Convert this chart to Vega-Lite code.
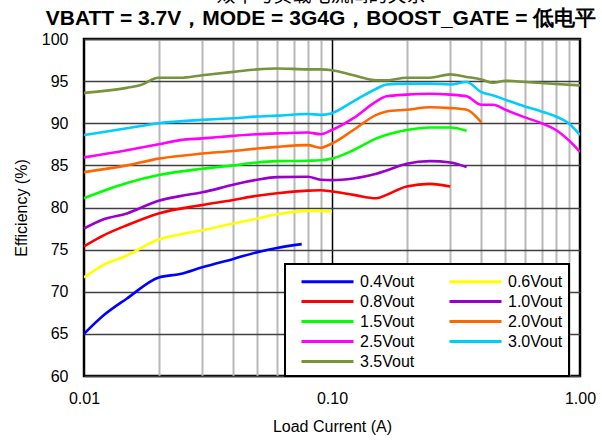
{
  "$schema": "https://vega.github.io/schema/vega-lite/v6.json",
  "width": 496,
  "height": 337,
  "autosize": {"type": "none"},
  "padding": {"left": 84, "top": 39, "right": 22, "bottom": 65},
  "background": "white",
  "config": {
    "view": {"stroke": "black", "strokeWidth": 2.5},
    "font": "Liberation Sans"
  },
  "title": {
    "text": "效率与负载电流间的关系",
    "subtitle": "VBATT = 3.7V，MODE = 3G4G，BOOST_GATE = 低电平",
    "anchor": "middle",
    "dx": -11,
    "font": "Noto Sans CJK SC",
    "fontSize": 19,
    "fontWeight": "normal",
    "color": "black",
    "subtitleFont": "Liberation Sans",
    "subtitleFontSize": 21,
    "subtitleFontWeight": "bold",
    "subtitleColor": "black",
    "subtitlePadding": 2,
    "offset": 2
  },
  "data": {
    "values": [
      {"I": 0.01, "E": 65.0, "s": "0.4Vout"},
      {"I": 0.012, "E": 67.2, "s": "0.4Vout"},
      {"I": 0.0149, "E": 69.2, "s": "0.4Vout"},
      {"I": 0.02, "E": 71.7, "s": "0.4Vout"},
      {"I": 0.0244, "E": 72.1, "s": "0.4Vout"},
      {"I": 0.03, "E": 72.9, "s": "0.4Vout"},
      {"I": 0.04, "E": 73.9, "s": "0.4Vout"},
      {"I": 0.05, "E": 74.7, "s": "0.4Vout"},
      {"I": 0.06, "E": 75.2, "s": "0.4Vout"},
      {"I": 0.0755, "E": 75.65, "s": "0.4Vout"},

      {"I": 0.01, "E": 71.7, "s": "0.6Vout"},
      {"I": 0.012, "E": 73.2, "s": "0.6Vout"},
      {"I": 0.0149, "E": 74.3, "s": "0.6Vout"},
      {"I": 0.02, "E": 76.2, "s": "0.6Vout"},
      {"I": 0.0244, "E": 76.8, "s": "0.6Vout"},
      {"I": 0.03, "E": 77.3, "s": "0.6Vout"},
      {"I": 0.04, "E": 78.1, "s": "0.6Vout"},
      {"I": 0.05, "E": 78.7, "s": "0.6Vout"},
      {"I": 0.06, "E": 79.2, "s": "0.6Vout"},
      {"I": 0.08, "E": 79.6, "s": "0.6Vout"},
      {"I": 0.09, "E": 79.6, "s": "0.6Vout"},
      {"I": 0.1, "E": 79.5, "s": "0.6Vout"},

      {"I": 0.01, "E": 75.4, "s": "0.8Vout"},
      {"I": 0.012, "E": 76.7, "s": "0.8Vout"},
      {"I": 0.0149, "E": 77.9, "s": "0.8Vout"},
      {"I": 0.02, "E": 79.3, "s": "0.8Vout"},
      {"I": 0.03, "E": 80.3, "s": "0.8Vout"},
      {"I": 0.04, "E": 80.9, "s": "0.8Vout"},
      {"I": 0.05, "E": 81.4, "s": "0.8Vout"},
      {"I": 0.06, "E": 81.7, "s": "0.8Vout"},
      {"I": 0.08, "E": 82.0, "s": "0.8Vout"},
      {"I": 0.09, "E": 82.05, "s": "0.8Vout"},
      {"I": 0.1, "E": 81.9, "s": "0.8Vout"},
      {"I": 0.122, "E": 81.5, "s": "0.8Vout"},
      {"I": 0.151, "E": 81.1, "s": "0.8Vout"},
      {"I": 0.166, "E": 81.5, "s": "0.8Vout"},
      {"I": 0.2, "E": 82.5, "s": "0.8Vout"},
      {"I": 0.248, "E": 82.8, "s": "0.8Vout"},
      {"I": 0.3, "E": 82.5, "s": "0.8Vout"},

      {"I": 0.01, "E": 77.5, "s": "1.0Vout"},
      {"I": 0.012, "E": 78.6, "s": "1.0Vout"},
      {"I": 0.0149, "E": 79.3, "s": "1.0Vout"},
      {"I": 0.02, "E": 80.8, "s": "1.0Vout"},
      {"I": 0.0244, "E": 81.35, "s": "1.0Vout"},
      {"I": 0.03, "E": 81.8, "s": "1.0Vout"},
      {"I": 0.04, "E": 82.7, "s": "1.0Vout"},
      {"I": 0.05, "E": 83.3, "s": "1.0Vout"},
      {"I": 0.06, "E": 83.6, "s": "1.0Vout"},
      {"I": 0.08, "E": 83.65, "s": "1.0Vout"},
      {"I": 0.09, "E": 83.3, "s": "1.0Vout"},
      {"I": 0.1, "E": 83.25, "s": "1.0Vout"},
      {"I": 0.122, "E": 83.45, "s": "1.0Vout"},
      {"I": 0.151, "E": 84.0, "s": "1.0Vout"},
      {"I": 0.166, "E": 84.4, "s": "1.0Vout"},
      {"I": 0.2, "E": 85.2, "s": "1.0Vout"},
      {"I": 0.248, "E": 85.5, "s": "1.0Vout"},
      {"I": 0.3, "E": 85.35, "s": "1.0Vout"},
      {"I": 0.349, "E": 84.8, "s": "1.0Vout"},

      {"I": 0.01, "E": 81.1, "s": "1.5Vout"},
      {"I": 0.0149, "E": 82.9, "s": "1.5Vout"},
      {"I": 0.02, "E": 83.85, "s": "1.5Vout"},
      {"I": 0.03, "E": 84.6, "s": "1.5Vout"},
      {"I": 0.04, "E": 85.0, "s": "1.5Vout"},
      {"I": 0.05, "E": 85.35, "s": "1.5Vout"},
      {"I": 0.06, "E": 85.5, "s": "1.5Vout"},
      {"I": 0.08, "E": 85.55, "s": "1.5Vout"},
      {"I": 0.09, "E": 85.6, "s": "1.5Vout"},
      {"I": 0.1, "E": 85.8, "s": "1.5Vout"},
      {"I": 0.122, "E": 86.8, "s": "1.5Vout"},
      {"I": 0.151, "E": 88.2, "s": "1.5Vout"},
      {"I": 0.2, "E": 89.2, "s": "1.5Vout"},
      {"I": 0.248, "E": 89.5, "s": "1.5Vout"},
      {"I": 0.3, "E": 89.5, "s": "1.5Vout"},
      {"I": 0.349, "E": 89.1, "s": "1.5Vout"},

      {"I": 0.01, "E": 84.2, "s": "2.0Vout"},
      {"I": 0.0149, "E": 85.0, "s": "2.0Vout"},
      {"I": 0.02, "E": 85.8, "s": "2.0Vout"},
      {"I": 0.03, "E": 86.4, "s": "2.0Vout"},
      {"I": 0.04, "E": 86.7, "s": "2.0Vout"},
      {"I": 0.05, "E": 87.0, "s": "2.0Vout"},
      {"I": 0.06, "E": 87.2, "s": "2.0Vout"},
      {"I": 0.08, "E": 87.4, "s": "2.0Vout"},
      {"I": 0.09, "E": 87.1, "s": "2.0Vout"},
      {"I": 0.1, "E": 87.6, "s": "2.0Vout"},
      {"I": 0.122, "E": 89.2, "s": "2.0Vout"},
      {"I": 0.151, "E": 91.0, "s": "2.0Vout"},
      {"I": 0.166, "E": 91.4, "s": "2.0Vout"},
      {"I": 0.2, "E": 91.6, "s": "2.0Vout"},
      {"I": 0.248, "E": 91.9, "s": "2.0Vout"},
      {"I": 0.3, "E": 91.8, "s": "2.0Vout"},
      {"I": 0.349, "E": 91.6, "s": "2.0Vout"},
      {"I": 0.4, "E": 90.1, "s": "2.0Vout"},

      {"I": 0.01, "E": 85.95, "s": "2.5Vout"},
      {"I": 0.0149, "E": 86.8, "s": "2.5Vout"},
      {"I": 0.02, "E": 87.5, "s": "2.5Vout"},
      {"I": 0.0244, "E": 88.0, "s": "2.5Vout"},
      {"I": 0.03, "E": 88.2, "s": "2.5Vout"},
      {"I": 0.04, "E": 88.5, "s": "2.5Vout"},
      {"I": 0.05, "E": 88.7, "s": "2.5Vout"},
      {"I": 0.06, "E": 88.8, "s": "2.5Vout"},
      {"I": 0.08, "E": 88.9, "s": "2.5Vout"},
      {"I": 0.09, "E": 88.7, "s": "2.5Vout"},
      {"I": 0.1, "E": 89.2, "s": "2.5Vout"},
      {"I": 0.122, "E": 90.6, "s": "2.5Vout"},
      {"I": 0.151, "E": 92.6, "s": "2.5Vout"},
      {"I": 0.166, "E": 93.2, "s": "2.5Vout"},
      {"I": 0.2, "E": 93.4, "s": "2.5Vout"},
      {"I": 0.248, "E": 93.5, "s": "2.5Vout"},
      {"I": 0.3, "E": 93.4, "s": "2.5Vout"},
      {"I": 0.349, "E": 93.2, "s": "2.5Vout"},
      {"I": 0.4, "E": 92.2, "s": "2.5Vout"},
      {"I": 0.447, "E": 92.2, "s": "2.5Vout"},
      {"I": 0.5, "E": 91.6, "s": "2.5Vout"},
      {"I": 0.6, "E": 90.7, "s": "2.5Vout"},
      {"I": 0.7, "E": 90.0, "s": "2.5Vout"},
      {"I": 0.8, "E": 89.2, "s": "2.5Vout"},
      {"I": 0.9, "E": 88.0, "s": "2.5Vout"},
      {"I": 1.0, "E": 86.6, "s": "2.5Vout"},

      {"I": 0.01, "E": 88.6, "s": "3.0Vout"},
      {"I": 0.0149, "E": 89.4, "s": "3.0Vout"},
      {"I": 0.02, "E": 90.0, "s": "3.0Vout"},
      {"I": 0.03, "E": 90.4, "s": "3.0Vout"},
      {"I": 0.04, "E": 90.6, "s": "3.0Vout"},
      {"I": 0.05, "E": 90.8, "s": "3.0Vout"},
      {"I": 0.06, "E": 90.9, "s": "3.0Vout"},
      {"I": 0.08, "E": 91.1, "s": "3.0Vout"},
      {"I": 0.09, "E": 91.0, "s": "3.0Vout"},
      {"I": 0.1, "E": 91.2, "s": "3.0Vout"},
      {"I": 0.122, "E": 92.6, "s": "3.0Vout"},
      {"I": 0.151, "E": 94.1, "s": "3.0Vout"},
      {"I": 0.166, "E": 94.6, "s": "3.0Vout"},
      {"I": 0.2, "E": 94.7, "s": "3.0Vout"},
      {"I": 0.248, "E": 94.7, "s": "3.0Vout"},
      {"I": 0.3, "E": 94.6, "s": "3.0Vout"},
      {"I": 0.349, "E": 94.9, "s": "3.0Vout"},
      {"I": 0.4, "E": 93.7, "s": "3.0Vout"},
      {"I": 0.447, "E": 93.3, "s": "3.0Vout"},
      {"I": 0.5, "E": 92.8, "s": "3.0Vout"},
      {"I": 0.6, "E": 92.0, "s": "3.0Vout"},
      {"I": 0.7, "E": 91.4, "s": "3.0Vout"},
      {"I": 0.8, "E": 90.8, "s": "3.0Vout"},
      {"I": 0.9, "E": 90.0, "s": "3.0Vout"},
      {"I": 1.0, "E": 88.6, "s": "3.0Vout"},

      {"I": 0.01, "E": 93.6, "s": "3.5Vout"},
      {"I": 0.0149, "E": 94.2, "s": "3.5Vout"},
      {"I": 0.0168, "E": 94.5, "s": "3.5Vout"},
      {"I": 0.02, "E": 95.4, "s": "3.5Vout"},
      {"I": 0.0244, "E": 95.4, "s": "3.5Vout"},
      {"I": 0.03, "E": 95.7, "s": "3.5Vout"},
      {"I": 0.04, "E": 96.1, "s": "3.5Vout"},
      {"I": 0.05, "E": 96.4, "s": "3.5Vout"},
      {"I": 0.06, "E": 96.5, "s": "3.5Vout"},
      {"I": 0.08, "E": 96.4, "s": "3.5Vout"},
      {"I": 0.09, "E": 96.4, "s": "3.5Vout"},
      {"I": 0.1, "E": 96.3, "s": "3.5Vout"},
      {"I": 0.122, "E": 95.7, "s": "3.5Vout"},
      {"I": 0.151, "E": 95.1, "s": "3.5Vout"},
      {"I": 0.166, "E": 95.1, "s": "3.5Vout"},
      {"I": 0.2, "E": 95.4, "s": "3.5Vout"},
      {"I": 0.248, "E": 95.4, "s": "3.5Vout"},
      {"I": 0.3, "E": 95.8, "s": "3.5Vout"},
      {"I": 0.349, "E": 95.5, "s": "3.5Vout"},
      {"I": 0.4, "E": 95.2, "s": "3.5Vout"},
      {"I": 0.447, "E": 94.8, "s": "3.5Vout"},
      {"I": 0.5, "E": 95.05, "s": "3.5Vout"},
      {"I": 0.6, "E": 94.9, "s": "3.5Vout"},
      {"I": 0.8, "E": 94.65, "s": "3.5Vout"},
      {"I": 1.0, "E": 94.5, "s": "3.5Vout"}
    ]
  },
  "mark": {"type": "line", "interpolate": "monotone", "strokeWidth": 2.6, "clip": true},
  "encoding": {
    "x": {
      "field": "I",
      "type": "quantitative",
      "scale": {"type": "log", "domain": [0.01, 1], "nice": false},
      "axis": {
        "title": "Load Current (A)",
        "titleFont": "Liberation Sans",
        "titleFontSize": 16,
        "titleFontWeight": "normal",
        "titleColor": "black",
        "titlePadding": 12,
        "values": [0.01, 0.02, 0.03, 0.04, 0.05, 0.06, 0.07, 0.08, 0.09, 0.1, 0.2, 0.3, 0.4, 0.5, 0.6, 0.7, 0.8, 0.9, 1],
        "labelExpr": "datum.value == 0.01 ? '0.01' : datum.value == 0.1 ? '0.10' : datum.value == 1 ? '1.00' : ''",
        "labelFont": "Liberation Sans",
        "labelFontSize": 16,
        "labelColor": "black",
        "labelPadding": 14,
        "labelFlush": false,
        "labelOverlap": false,
        "ticks": false,
        "domain": false,
        "grid": true,
        "gridColor": {"condition": {"test": "datum.value == 0.1", "value": "#000000"}, "value": "#b8b8b8"},
        "gridWidth": {"condition": {"test": "datum.value == 0.1", "value": 1.5}, "value": 2},
        "gridOpacity": {"condition": {"test": "datum.value == 0.01 || datum.value == 1", "value": 0}, "value": 1}
      }
    },
    "y": {
      "field": "E",
      "type": "quantitative",
      "scale": {"domain": [60, 100], "nice": false, "zero": false},
      "axis": {
        "title": "Efficiency (%)",
        "titleFont": "Liberation Sans",
        "titleFontSize": 16,
        "titleFontWeight": "normal",
        "titleColor": "black",
        "titlePadding": 12,
        "values": [60, 65, 70, 75, 80, 85, 90, 95, 100],
        "labelFont": "Liberation Sans",
        "labelFontSize": 16,
        "labelColor": "black",
        "labelPadding": 16,
        "ticks": false,
        "domain": false,
        "grid": true,
        "gridColor": "#404040",
        "gridWidth": 1.5
      }
    },
    "color": {
      "field": "s",
      "type": "nominal",
      "scale": {
        "domain": ["0.4Vout", "0.6Vout", "0.8Vout", "1.0Vout", "1.5Vout", "2.0Vout", "2.5Vout", "3.0Vout", "3.5Vout"],
        "range": ["#0000ff", "#ffff00", "#ff0000", "#9900cc", "#00ff00", "#ff6600", "#ff00ff", "#00ccff", "#77933c"]
      },
      "legend": {
        "title": null,
        "orient": "none",
        "legendX": 201,
        "legendY": 225,
        "columns": 2,
        "direction": "horizontal",
        "fillColor": "white",
        "strokeColor": "black",
        "padding": 6,
        "symbolType": "M-2.6,0H2.6",
        "symbolSize": 400,
        "symbolStrokeWidth": 3,
        "symbolOffset": 25,
        "labelFont": "Liberation Sans",
        "labelFontSize": 16,
        "labelColor": "black",
        "labelOffset": 21,
        "labelLimit": 200,
        "rowPadding": 0,
        "columnPadding": 24,
        "encode": {"legend": {"update": {"strokeWidth": {"value": 2}}}}
      }
    }
  }
}
